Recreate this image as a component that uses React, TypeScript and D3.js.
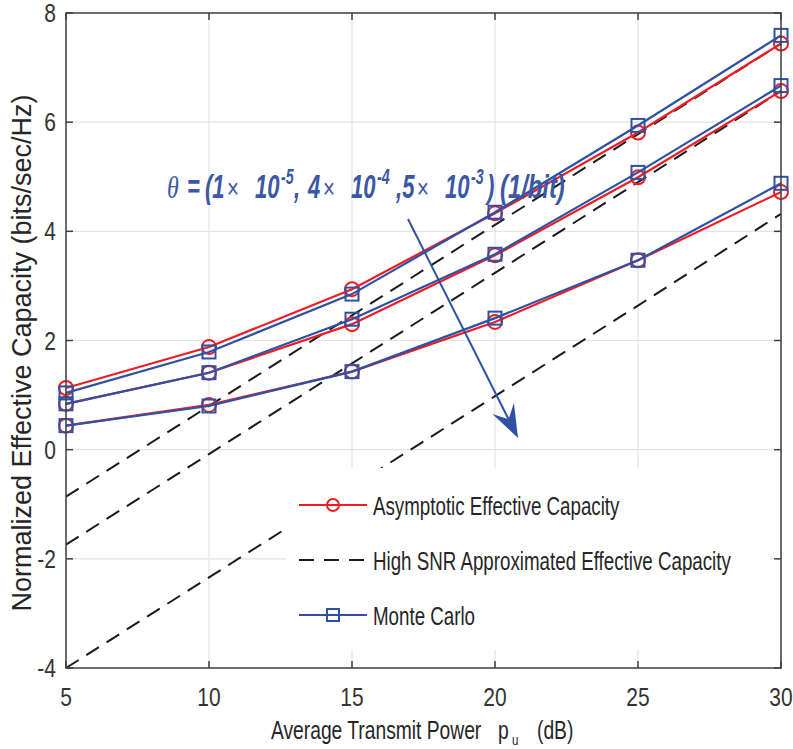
import React from "react";
import * as d3 from "d3";

const xValues = [5, 10, 15, 20, 25, 30];
const asym1 = [1.13, 1.88, 2.94, 4.33, 5.81, 7.44];
const asym2 = [0.84, 1.41, 2.3, 3.56, 4.99, 6.57];
const asym3 = [0.44, 0.82, 1.43, 2.34, 3.47, 4.72];
const mc1 = [1.04, 1.79, 2.85, 4.35, 5.94, 7.59];
const mc2 = [0.84, 1.41, 2.39, 3.58, 5.08, 6.67];
const mc3 = [0.44, 0.8, 1.43, 2.41, 3.47, 4.88];
const highSNR1 = [-0.86, 0.8, 2.46, 4.12, 5.78, 7.44];
const highSNR2 = [-1.74, -0.08, 1.58, 3.24, 4.9, 6.57];
const highSNR3 = [-4.0, -2.34, -0.68, 0.98, 2.64, 4.32];
const xTicks = [5, 10, 15, 20, 25, 30];
const yTicks = [-4, -2, 0, 2, 4, 6, 8];
const legendLabels = [
  "Asymptotic Effective Capacity",
  "High SNR Approximated Effective Capacity",
  "Monte Carlo",
];

const W = 793;
const H = 749;
const L = 66, R = 781, T = 13, B = 668;
const RED = "#ee1d25";
const BLUE = "#2f51a3";
const ANN = "#3b57a5";
const FONT = "'Liberation Sans', Arial, Helvetica, sans-serif";

function SText(props: any) {
  const {
    x, y, sx = 0.84, anchor = "start", size = 25, fill = "#333",
    weight = "normal", style = "normal", family = FONT, children,
  } = props;
  return (
    <g transform={`translate(${x},${y}) scale(${sx},1)`}>
      <text textAnchor={anchor} fontSize={size} fill={fill} fontFamily={family}
        fontWeight={weight} fontStyle={style}>
        {children}
      </text>
    </g>
  );
}

export default function App() {
  const x = d3.scaleLinear().domain([5, 30]).range([L, R]);
  const y = d3.scaleLinear().domain([-4, 8]).range([B, T]);
  const line = d3
    .line<number>()
    .x((_, i) => x(xValues[i]))
    .y((d) => y(d));

  const asym = [asym1, asym2, asym3];
  const mc = [mc1, mc2, mc3];
  const hs = [highSNR1, highSNR2, highSNR3];

  // arrow
  const ax0 = 408, ay0 = 219, ax1 = 518, ay1 = 438;
  const dx = ax1 - ax0, dy = ay1 - ay0;
  const len = Math.hypot(dx, dy);
  const ux = dx / len, uy = dy / len;
  const nx = -uy, ny = ux;
  const hl = 33, hw = 12, notch = 21;
  const head = [
    [ax1, ay1],
    [ax1 - hl * ux + hw * nx, ay1 - hl * uy + hw * ny],
    [ax1 - notch * ux, ay1 - notch * uy],
    [ax1 - hl * ux - hw * nx, ay1 - hl * uy - hw * ny],
  ];

  const legendRows = [505, 560, 615];

  // annotation pieces (text layout)
  const bl = 198;
  const sup = 184;
  const asx = 0.65;
  const bi = { weight: "bold", style: "italic", size: 34, fill: ANN, sx: asx };
  const tm = { weight: "normal", style: "normal", size: 27, fill: ANN, sx: 0.75 };
  const sp = { weight: "bold", style: "italic", size: 22, fill: ANN, sx: asx };

  return (
    <svg
      width={W}
      height={H}
      style={{ position: "absolute", left: 0, top: 0, background: "#fff" }}
    >
      <rect x={0} y={0} width={W} height={H} fill="#fff" />
      {/* grid */}
      {xTicks.map((t) => (
        <line key={"gx" + t} x1={x(t)} x2={x(t)} y1={T} y2={B} stroke="#e3e3e3" strokeWidth={1.2} />
      ))}
      {yTicks.map((t) => (
        <line key={"gy" + t} x1={L} x2={R} y1={y(t)} y2={y(t)} stroke="#e3e3e3" strokeWidth={1.2} />
      ))}
      {/* dashed high SNR */}
      {hs.map((s, i) => (
        <path key={"h" + i} d={line(s) || ""} fill="none" stroke="#1a1a1a" strokeWidth={2} strokeDasharray="15 9" />
      ))}
      {/* asymptotic */}
      {asym.map((s, i) => (
        <g key={"a" + i}>
          <path d={line(s) || ""} fill="none" stroke={RED} strokeWidth={2.2} />
          {s.map((v, j) => (
            <circle key={j} cx={x(xValues[j])} cy={y(v)} r={7} fill="none" stroke={RED} strokeWidth={2} />
          ))}
        </g>
      ))}
      {/* monte carlo */}
      {mc.map((s, i) => (
        <g key={"m" + i}>
          <path d={line(s) || ""} fill="none" stroke={BLUE} strokeWidth={2.2} />
          {s.map((v, j) => (
            <rect key={j} x={x(xValues[j]) - 6.5} y={y(v) - 6.5} width={13} height={13} fill="none" stroke={BLUE} strokeWidth={2} />
          ))}
        </g>
      ))}
      {/* axes box */}
      <rect x={L} y={T} width={R - L} height={B - T} fill="none" stroke="#404040" strokeWidth={1.5} />
      {xTicks.map((t) => (
        <g key={"tx" + t}>
          <line x1={x(t)} x2={x(t)} y1={B} y2={B - 7} stroke="#404040" strokeWidth={1.5} />
          <line x1={x(t)} x2={x(t)} y1={T} y2={T + 7} stroke="#404040" strokeWidth={1.5} />
          <SText x={x(t)} y={706} anchor="middle">{String(t)}</SText>
        </g>
      ))}
      {yTicks.map((t) => (
        <g key={"ty" + t}>
          <line x1={L} x2={L + 7} y1={y(t)} y2={y(t)} stroke="#404040" strokeWidth={1.5} />
          <line x1={R} x2={R - 7} y1={y(t)} y2={y(t)} stroke="#404040" strokeWidth={1.5} />
          <SText x={56} y={y(t) + 9} anchor="end">{String(t)}</SText>
        </g>
      ))}
      {/* x axis label */}
      <SText x={271} y={739} sx={0.77} fill="#262626">Average Transmit Power</SText>
      <SText x={498} y={739} sx={0.77} fill="#262626">p</SText>
      <SText x={512} y={745} sx={0.77} size={15} fill="#262626">u</SText>
      <SText x={537} y={739} sx={0.77} fill="#262626">(dB)</SText>
      {/* y axis label */}
      <text
        transform="translate(31,353) rotate(-90)"
        textAnchor="middle"
        fontSize={27}
        fill="#262626"
        fontFamily={FONT}
      >
        Normalized Effective Capacity (bits/sec/Hz)
      </text>
      {/* annotation */}
      <SText x={167} y={bl} {...tm} size={32} family="'Liberation Serif', 'DejaVu Serif', serif" style="italic">θ</SText>
      <SText x={187} y={bl} {...bi}>=</SText>
      <SText x={205} y={bl} {...bi}>(1</SText>
      <SText x={227} y={bl} {...tm}>×</SText>
      <SText x={255} y={bl} {...bi}>10</SText>
      <SText x={281} y={sup} {...sp}>-5</SText>
      <SText x={294} y={bl} {...bi}>,</SText>
      <SText x={308} y={bl} {...bi}>4</SText>
      <SText x={323} y={bl} {...tm}>×</SText>
      <SText x={351} y={bl} {...bi}>10</SText>
      <SText x={377} y={sup} {...sp}>-4</SText>
      <SText x={396} y={bl} {...bi}>,5</SText>
      <SText x={417} y={bl} {...tm}>×</SText>
      <SText x={445} y={bl} {...bi}>10</SText>
      <SText x={471} y={sup} {...sp}>-3</SText>
      <SText x={487} y={bl} {...bi}>)</SText>
      <SText x={500} y={bl} {...bi} sx={0.7}>(1/bit)</SText>
      {/* arrow */}
      <line x1={ax0} y1={ay0} x2={ax1 - notch * ux} y2={ay1 - notch * uy} stroke={BLUE} strokeWidth={2} />
      <polygon points={head.map((p) => p.join(",")).join(" ")} fill={BLUE} />
      {/* legend */}
      <rect x={286} y={468} width={484} height={182} fill="#fff" />
      {legendRows.map((ry, i) => (
        <g key={"lg" + i}>
          {i === 1 ? (
            <line x1={299} x2={367} y1={ry} y2={ry} stroke="#1a1a1a" strokeWidth={2} strokeDasharray="15 10" />
          ) : (
            <line x1={299} x2={367} y1={ry} y2={ry} stroke={i === 0 ? RED : BLUE} strokeWidth={2} />
          )}
          {i === 0 && <circle cx={333} cy={ry} r={6} fill="none" stroke={RED} strokeWidth={2} />}
          {i === 2 && <rect x={327} y={ry - 6} width={12} height={12} fill="none" stroke={BLUE} strokeWidth={2} />}
          <SText x={373} y={ry + 10} fill="#262626" sx={0.75}>{legendLabels[i]}</SText>
        </g>
      ))}
    </svg>
  );
}
